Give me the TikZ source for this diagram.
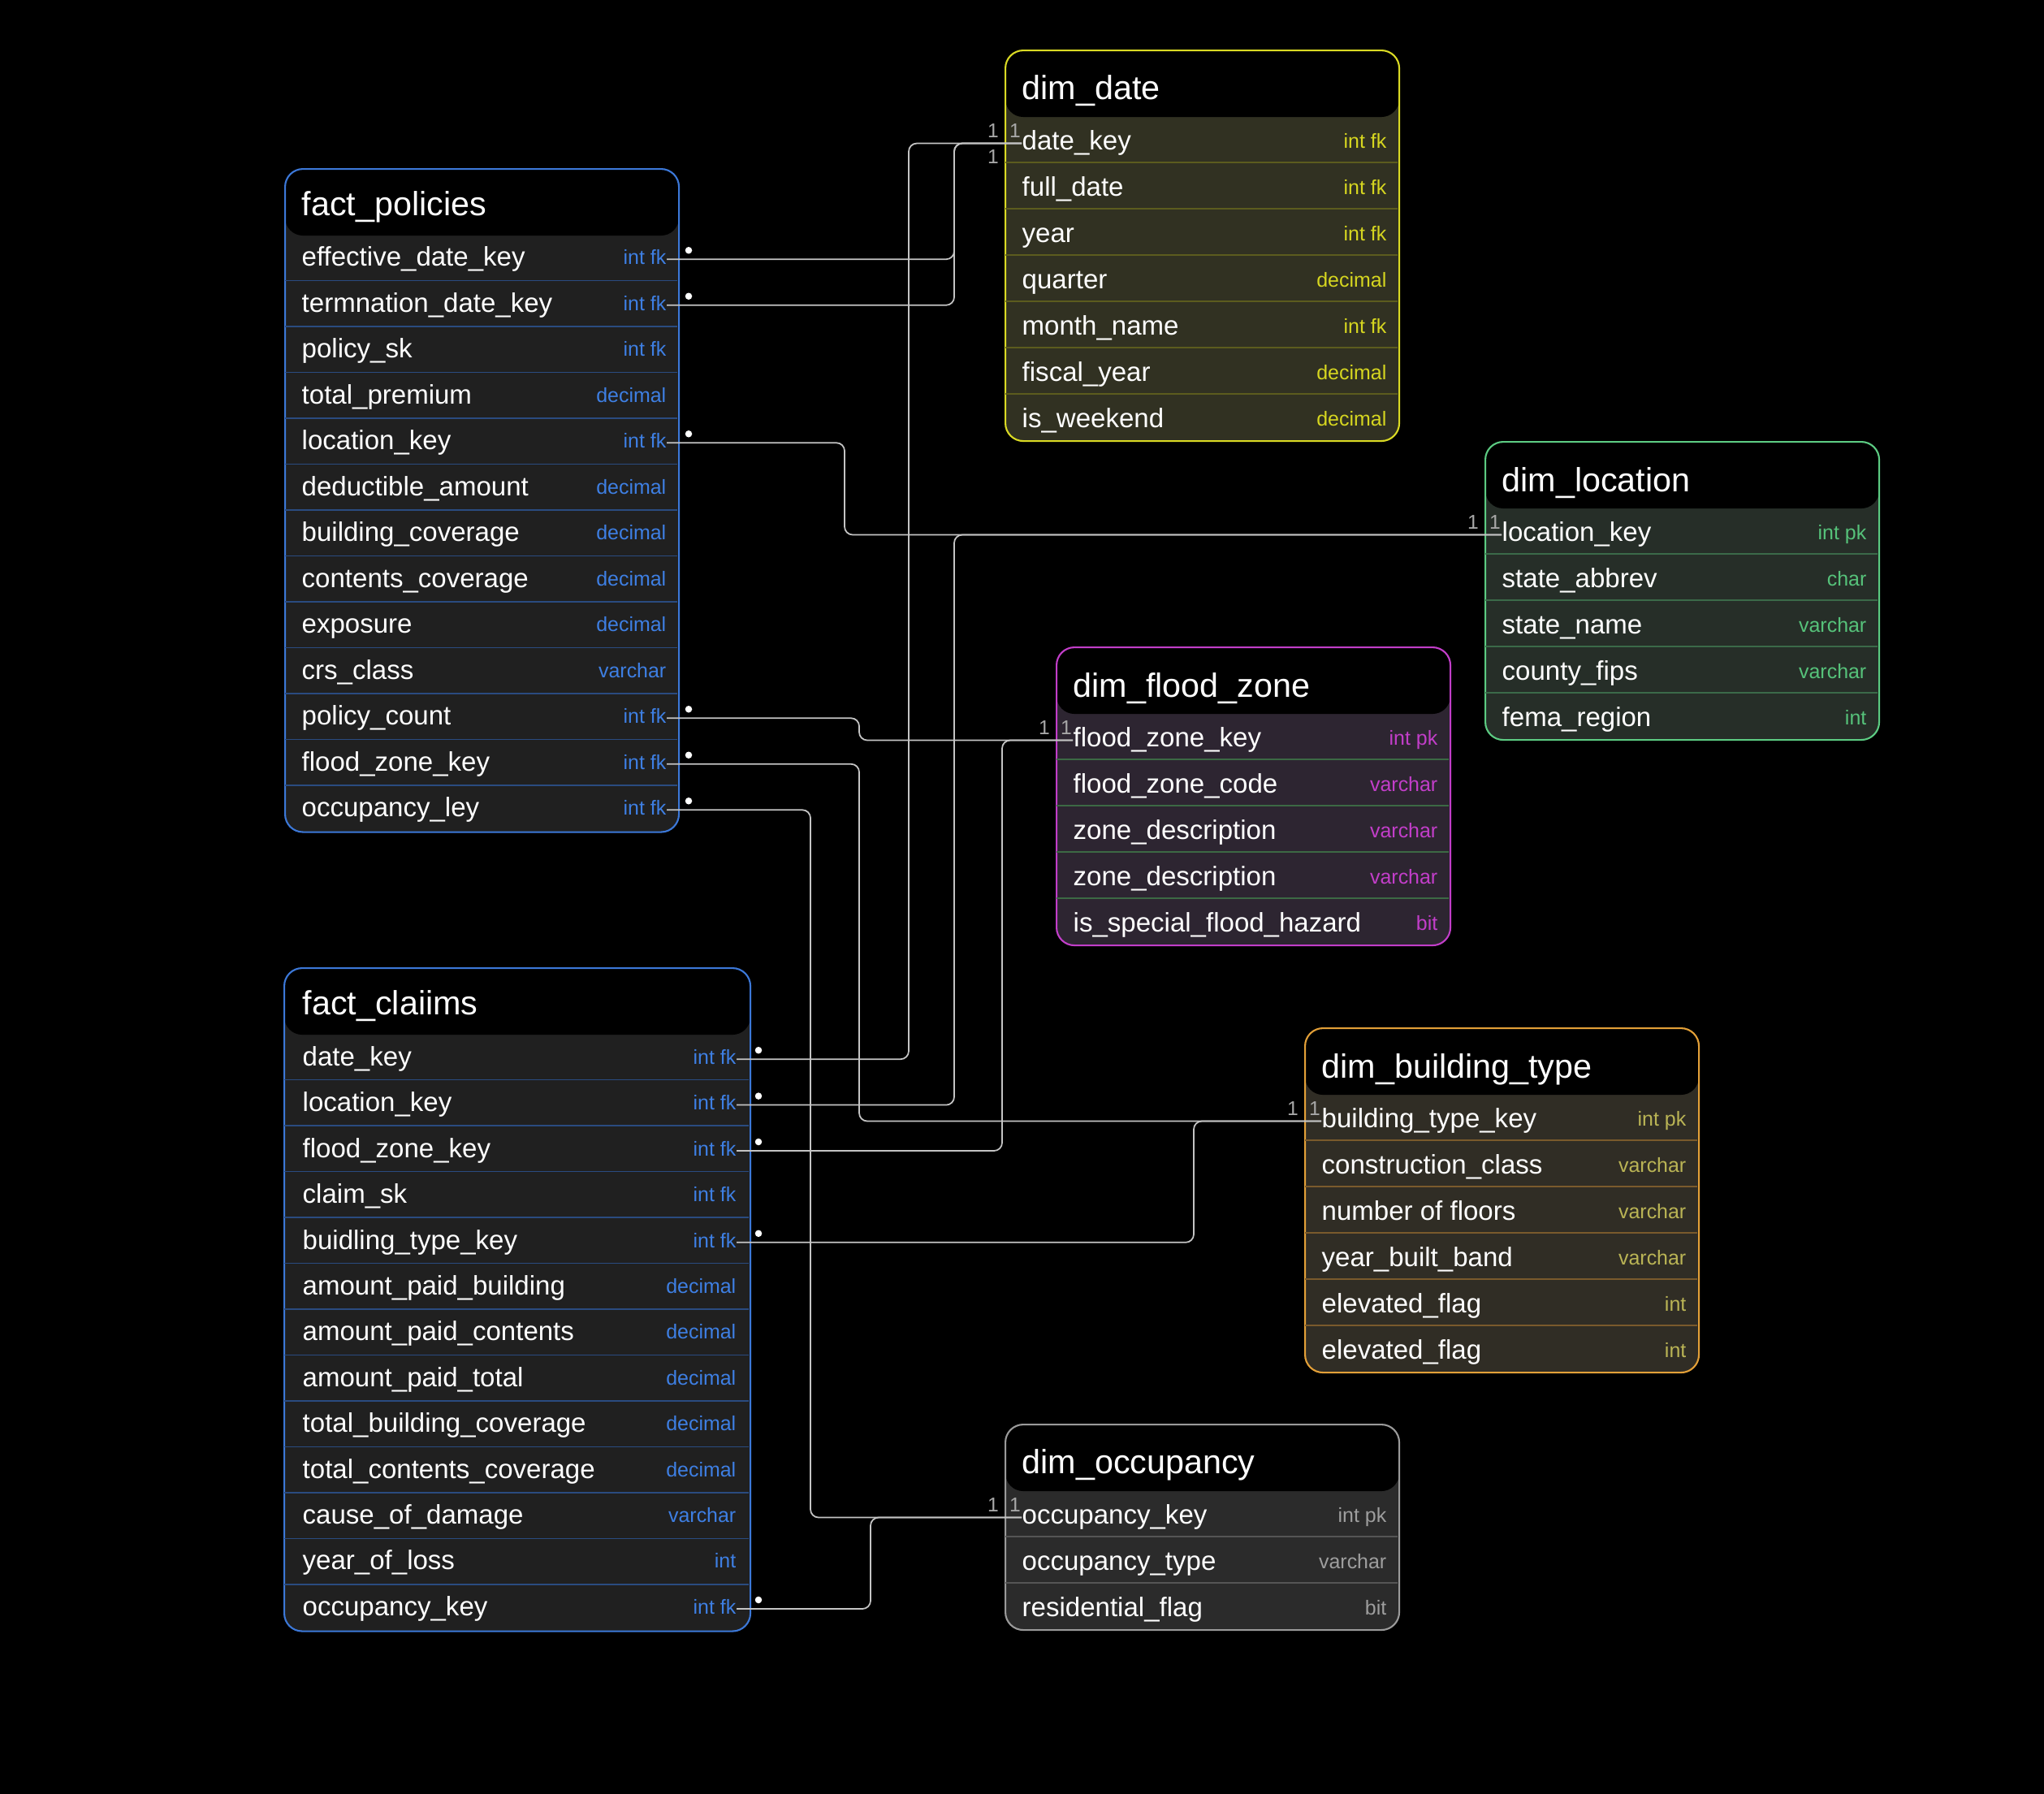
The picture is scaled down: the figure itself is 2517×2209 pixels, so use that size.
\documentclass[tikz,border=0pt]{standalone}
\usepackage{fontspec}
\setmainfont{Liberation Sans}

\definecolor{relgray}{HTML}{C4C4C4}
\definecolor{multgray}{HTML}{A8A8A8}
\definecolor{factbd}{HTML}{3C78D8}
\definecolor{factrow}{HTML}{202020}
\definecolor{factsep}{HTML}{2A4B80}
\definecolor{factty}{HTML}{3E7FE3}
\definecolor{datebd}{HTML}{DADA24}
\definecolor{daterow}{HTML}{313122}
\definecolor{datesep}{HTML}{5C5C1E}
\definecolor{datety}{HTML}{D6D620}
\definecolor{locbd}{HTML}{5CCB82}
\definecolor{locrow}{HTML}{262E28}
\definecolor{locsep}{HTML}{3B6A49}
\definecolor{locty}{HTML}{56C27A}
\definecolor{fzbd}{HTML}{C23EC9}
\definecolor{fzrow}{HTML}{2D2531}
\definecolor{fzsep}{HTML}{3C6944}
\definecolor{fzty}{HTML}{C23EC9}
\definecolor{btbd}{HTML}{E3A038}
\definecolor{btrow}{HTML}{302D25}
\definecolor{btsep}{HTML}{7A5A2C}
\definecolor{btty}{HTML}{BAB455}
\definecolor{ocbd}{HTML}{9A9A9A}
\definecolor{ocrow}{HTML}{2B2B2B}
\definecolor{ocsep}{HTML}{555555}
\definecolor{octy}{HTML}{9E9E9E}

\begin{document}
\begin{tikzpicture}[
        x=0.1mm, y=-0.1mm,
        tbox/.style 2 args={draw=#1, fill=#2, line width=0.6pt, rounded corners=2.2mm,
                    anchor=north west, inner sep=0pt,
                    path picture={\fill[black] (path picture bounding box.north west)
                        rectangle ([yshift=-8.2mm]path picture bounding box.north east);}},
        ttl/.style={anchor=base west, inner sep=0pt, text=white,
                    font=\fontsize{11.75}{14}\selectfont},
        fname/.style={anchor=west, inner sep=0pt, text=white, text height=6.8pt,
                    text depth=2.1pt, font=\fontsize{9.4}{11}\selectfont},
        ftype/.style={anchor=east, inner sep=0pt, text height=5.1pt, text depth=1.5pt,
                    font=\fontsize{7.1}{8.5}\selectfont},
        rowsep/.style={line width=0.3pt},
        fkdot/.style={circle, fill=white, inner sep=0pt, minimum size=0.85mm},
        mult/.style={inner sep=0pt, text=multgray, font=\fontsize{7}{8}\selectfont},
        rel/.style={draw=relgray, line width=0.5pt, rounded corners=1mm}]

    \fill[black] (0,0) rectangle (2517,2209);

    % --- fact_policies
    \node[tbox={factbd}{factrow}, minimum width=48.5mm, minimum height=81.65mm] (pol) at (350,207) {};
    \foreach \k in {1,...,12} \draw[rowsep, factsep] (351,{289+\k*56.5}) -- (834,{289+\k*56.5});
    \node[ttl] (pol-h) at (371,265) {fact\_policies};
    \foreach [count=\i] \fld/\typ in {effective\_date\_key/int fk, termnation\_date\_key/int fk,
            policy\_sk/int fk, total\_premium/decimal, location\_key/int fk,
            deductible\_amount/decimal, building\_coverage/decimal, contents\_coverage/decimal,
            exposure/decimal, crs\_class/varchar, policy\_count/int fk, flood\_zone\_key/int fk,
            occupancy\_ley/int fk}{
        \node[fname] (pol-\i) at (371,{291+(\i-0.5)*56.5}) {\fld};
        \node[ftype, text=factty] (pol-\i-t) at (821,{291+(\i-0.5)*56.5}) {\typ};
    }
    \foreach \i in {1,2,5,11,12,13} \node[fkdot] (pol-\i-d) at ([shift={(27,-11)}]pol-\i-t.east) {};

    % --- fact_claiims
    \node[tbox={factbd}{factrow}, minimum width=57.4mm, minimum height=81.65mm] (clm) at (349,1191) {};
    \foreach \k in {1,...,12} \draw[rowsep, factsep] (350,{1273+\k*56.5}) -- (922,{1273+\k*56.5});
    \node[ttl] (clm-h) at (372,1249) {fact\_claiims};
    \foreach [count=\i] \fld/\typ in {date\_key/int fk, location\_key/int fk, flood\_zone\_key/int fk,
            claim\_sk/int fk, buidling\_type\_key/int fk, amount\_paid\_building/decimal,
            amount\_paid\_contents/decimal, amount\_paid\_total/decimal,
            total\_building\_coverage/decimal, total\_contents\_coverage/decimal,
            cause\_of\_damage/varchar, year\_of\_loss/int, occupancy\_key/int fk}{
        \node[fname] (clm-\i) at (372,{1276+(\i-0.5)*56.4}) {\fld};
        \node[ftype, text=factty] (clm-\i-t) at (907,{1276+(\i-0.5)*56.4}) {\typ};
    }
    \foreach \i in {1,2,3,5,13} \node[fkdot] (clm-\i-d) at ([shift={(27,-11)}]clm-\i-t.east) {};

    % --- dim_date
    \node[tbox={datebd}{daterow}, minimum width=48.5mm, minimum height=48.1mm] (dd) at (1237,61) {};
    \foreach \k in {1,...,6} \draw[rowsep, datesep] (1238,{143+\k*57}) -- (1721,{143+\k*57});
    \node[ttl] (dd-h) at (1258,122) {dim\_date};
    \foreach [count=\i] \fld/\typ in {date\_key/int fk, full\_date/int fk, year/int fk,
            quarter/decimal, month\_name/int fk, fiscal\_year/decimal, is\_weekend/decimal}{
        \node[fname] (dd-\i) at (1258,{148+(\i-0.5)*57}) {\fld};
        \node[ftype, text=datety] (dd-\i-t) at (1708,{148+(\i-0.5)*57}) {\typ};
    }

    % --- dim_location
    \node[tbox={locbd}{locrow}, minimum width=48.5mm, minimum height=36.7mm] (loc) at (1828,543) {};
    \foreach \k in {1,...,4} \draw[rowsep, locsep] (1829,{625+\k*57}) -- (2312,{625+\k*57});
    \node[ttl] (loc-h) at (1849,605) {dim\_location};
    \foreach [count=\i] \fld/\typ in {location\_key/int pk, state\_abbrev/char,
            state\_name/varchar, county\_fips/varchar, fema\_region/int}{
        \node[fname] (loc-\i) at (1849,{630+(\i-0.5)*57}) {\fld};
        \node[ftype, text=locty] (loc-\i-t) at (2299,{630+(\i-0.5)*57}) {\typ};
    }

    % --- dim_flood_zone
    \node[tbox={fzbd}{fzrow}, minimum width=48.5mm, minimum height=36.7mm] (fz) at (1300,796) {};
    \foreach \k in {1,...,4} \draw[rowsep, fzsep] (1301,{878+\k*57}) -- (1784,{878+\k*57});
    \node[ttl] (fz-h) at (1321,858) {dim\_flood\_zone};
    \foreach [count=\i] \fld/\typ in {flood\_zone\_key/int pk, flood\_zone\_code/varchar,
            zone\_description/varchar, zone\_description/varchar,
            is\_special\_flood\_hazard/bit}{
        \node[fname] (fz-\i) at (1321,{883+(\i-0.5)*57}) {\fld};
        \node[ftype, text=fzty] (fz-\i-t) at (1771,{883+(\i-0.5)*57}) {\typ};
    }

    % --- dim_building_type
    \node[tbox={btbd}{btrow}, minimum width=48.5mm, minimum height=42.4mm] (bt) at (1606,1265) {};
    \foreach \k in {1,...,5} \draw[rowsep, btsep] (1607,{1347+\k*57}) -- (2090,{1347+\k*57});
    \node[ttl] (bt-h) at (1627,1327) {dim\_building\_type};
    \foreach [count=\i] \fld/\typ in {building\_type\_key/int pk, construction\_class/varchar,
            number of floors/varchar, year\_built\_band/varchar, elevated\_flag/int,
            elevated\_flag/int}{
        \node[fname] (bt-\i) at (1627,{1352+(\i-0.5)*57}) {\fld};
        \node[ftype, text=btty] (bt-\i-t) at (2077,{1352+(\i-0.5)*57}) {\typ};
    }

    % --- dim_occupancy
    \node[tbox={ocbd}{ocrow}, minimum width=48.5mm, minimum height=25.3mm] (oc) at (1237,1753) {};
    \foreach \k in {1,2} \draw[rowsep, ocsep] (1238,{1835+\k*57}) -- (1721,{1835+\k*57});
    \node[ttl] (oc-h) at (1258,1814) {dim\_occupancy};
    \foreach [count=\i] \fld/\typ in {occupancy\_key/int pk, occupancy\_type/varchar,
            residential\_flag/bit}{
        \node[fname] (oc-\i) at (1258,{1840+(\i-0.5)*57}) {\fld};
        \node[ftype, text=octy] (oc-\i-t) at (1708,{1840+(\i-0.5)*57}) {\typ};
    }

    % --- relations (vertical lanes)
    \coordinate (lnA) at (1119,0);
    \coordinate (lnB) at (1175,0);
    \coordinate (lnC) at (1040,0);
    \coordinate (lnD) at (1058,0);
    \coordinate (lnE) at (1234,0);
    \coordinate (lnF) at (1470,0);
    \coordinate (lnG) at (998,0);
    \coordinate (lnH) at (1072,0);

    \draw[rel] (clm-1-t.east)  -- (clm-1-t.east -| lnA)  |- (dd-1.west);
    \draw[rel] (pol-1-t.east)  -- (pol-1-t.east -| lnB)  |- (dd-1.west);
    \draw[rel] (pol-2-t.east)  -- (pol-2-t.east -| lnB)  |- (dd-1.west);
    \draw[rel] (pol-5-t.east)  -- (pol-5-t.east -| lnC)  |- (loc-1.west);
    \draw[rel] (clm-2-t.east)  -- (clm-2-t.east -| lnB)  |- (loc-1.west);
    \draw[rel] (pol-11-t.east) -- (pol-11-t.east -| lnD) |- (fz-1.west);
    \draw[rel] (clm-3-t.east)  -- (clm-3-t.east -| lnE)  |- (fz-1.west);
    \draw[rel] (pol-12-t.east) -- (pol-12-t.east -| lnD) |- (bt-1.west);
    \draw[rel] (clm-5-t.east)  -- (clm-5-t.east -| lnF)  |- (bt-1.west);
    \draw[rel] (pol-13-t.east) -- (pol-13-t.east -| lnG) |- (oc-1.west);
    \draw[rel] (clm-13-t.east) -- (clm-13-t.east -| lnH) |- (oc-1.west);

    % multiplicities
    \node[mult] (dd-m1) at ([shift={(-8,-15)}]dd-1.west) {1};
    \node[mult] (dd-m2) at ([shift={(-35,-15)}]dd-1.west) {1};
    \node[mult] (dd-m3) at ([shift={(-35,17)}]dd-1.west) {1};
    \foreach \t in {loc,fz,bt,oc}{
        \node[mult] (\t-m1) at ([shift={(-8,-15)}]\t-1.west) {1};
        \node[mult] (\t-m2) at ([shift={(-35,-15)}]\t-1.west) {1};
    }

\end{tikzpicture}
\end{document}
